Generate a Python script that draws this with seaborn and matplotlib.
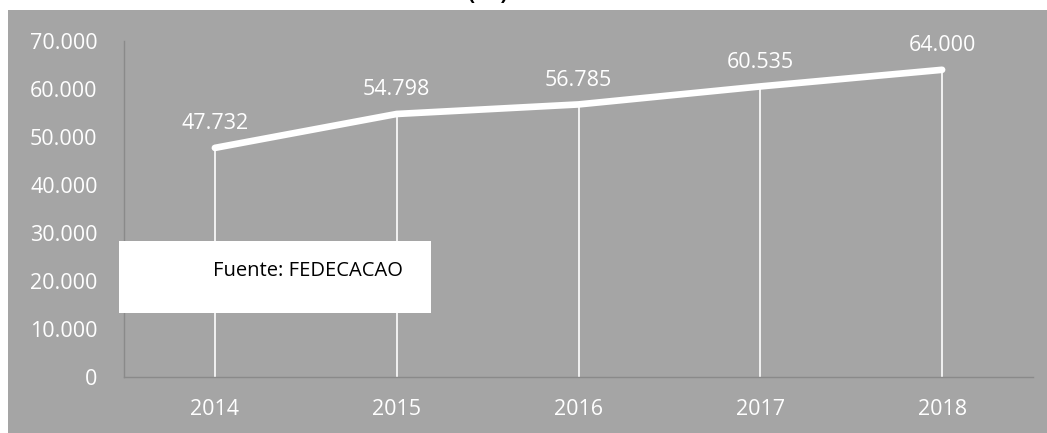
import matplotlib
matplotlib.use('Agg')
import matplotlib.pyplot as plt
import seaborn as sns
import pandas as pd
from matplotlib.patches import Rectangle
from matplotlib.ticker import FuncFormatter

# datos
years = ['2014', '2015', '2016', '2017', '2018']
area = [47732, 54798, 56785, 60535, 64000]
source_note = 'Fuente: FEDECACAO'

df = pd.DataFrame({'year': years, 'area': area})

sns.set_theme(style='white')
plt.rcParams['font.family'] = ['Open Sans', 'DejaVu Sans']

grey = '#a5a5a5'
fig = plt.figure(figsize=(10.47, 4.33), dpi=100)
fig.patch.set_facecolor('white')
fig.patches.append(Rectangle((8 / 1047, 0), 1, 1 - 10 / 433, transform=fig.transFigure,
                             facecolor=grey, edgecolor='none', zorder=-5))

# titulo recortado arriba
fig.text(487 / 1047, 1 + 1 / 433, '(ha)', ha='center', va='baseline',
         fontsize=15, fontweight='bold', color='black')

ax = fig.add_axes([124 / 1047, 1 - 377 / 433, 909 / 1047, 336 / 433])
ax.set_zorder(2)
ax.set_facecolor(grey)

xpos = list(range(len(years)))
ax.vlines(xpos, 0, area, color='white', lw=1.2, zorder=1)
sns.lineplot(x=xpos, y=area, ax=ax, color='white', lw=4.8, zorder=3,
             solid_capstyle='round')

for x, v in zip(xpos, area):
    lab = f'{v:,}'.replace(',', '.')
    ax.annotate(lab, (x, v), xytext=(0, 10), textcoords='offset points',
                ha='center', va='bottom', color='white', fontsize=15.5)

ax.set_xlim(-0.5, len(years) - 0.5)
ax.set_ylim(0, 70000)
ax.set_yticks(range(0, 70001, 10000))
ax.yaxis.set_major_formatter(FuncFormatter(lambda v, p: f'{int(v):,}'.replace(',', '.')))
ax.set_xticks(xpos)
ax.set_xticklabels(years)
ax.tick_params(axis='both', colors='white', labelsize=15.5, length=0)
ax.tick_params(axis='x', pad=16)
ax.tick_params(axis='y', pad=19)

for s in ['top', 'right']:
    ax.spines[s].set_visible(False)
for s in ['left', 'bottom']:
    ax.spines[s].set_color('#8a8a8a')
    ax.spines[s].set_linewidth(1)
ax.set_xlabel('')
ax.set_ylabel('')

# cuadro de la fuente
ax.add_patch(Rectangle((119 / 1047, 1 - 313 / 433), 312 / 1047, 72 / 433,
                       transform=fig.transFigure, facecolor='white',
                       edgecolor='none', zorder=10, clip_on=False))
ax.text(213 / 1047, 1 - 271 / 433, source_note, transform=fig.transFigure,
        ha='left', va='center', fontsize=14.5, color='black', zorder=11)

fig.savefig('out.png', dpi=100, facecolor=fig.get_facecolor())
